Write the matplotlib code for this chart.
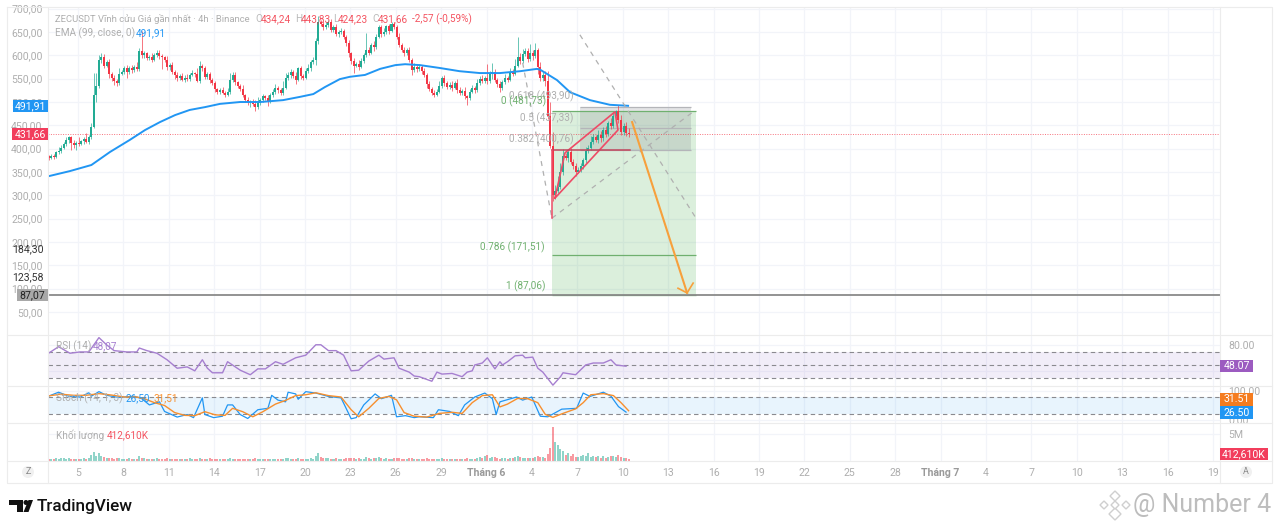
"""ZECUSDT 4h TradingView screenshot: candles, RSI, Stoch and volume panes."""
import numpy as np
import matplotlib
matplotlib.use("Agg")
import matplotlib.pyplot as plt
from matplotlib.patches import Rectangle, Polygon, Circle

plt.rcParams["font.family"] = ["Roboto", "DejaVu Sans"]

W, H = 1280, 529
# -----------------------------------------------------------------------
# Data (x is the candle number, 4h each)
# -----------------------------------------------------------------------
first_open = 384
closes = [
    380, 385, 383, 392, 396, 402, 410, 418, 424, 412,
    408, 413, 410, 416, 420, 415, 425, 447, 516, 535,
    590, 596, 578, 585, 560, 552, 546, 540, 560, 565,
    572, 565, 573, 568, 576, 570, 610, 600, 604, 594,
    596, 590, 600, 606, 598, 596, 590, 574, 580, 565,
    558, 552, 556, 548, 552, 550, 558, 562, 560, 546,
    578, 572, 554, 560, 548, 540, 528, 522, 526, 520,
    516, 522, 548, 558, 542, 535, 528, 515, 505, 498,
    500, 496, 490, 497, 505, 512, 508, 500, 515, 522,
    530, 525, 520, 530, 552, 558, 565, 556, 548, 572,
    555, 552, 566, 572, 585, 590, 630, 672, 668, 660,
    666, 672, 655, 660, 645, 650, 652, 640, 626, 604,
    588, 578, 582, 576, 588, 600, 612, 606, 622, 618,
    640, 660, 645, 650, 662, 652, 668, 660, 640, 622,
    612, 604, 612, 590, 568, 576, 570, 575, 566, 558,
    538, 528, 520, 516, 522, 534, 552, 540, 532, 536,
    530, 540, 526, 520, 524, 512, 508, 522, 530, 526,
    540, 550, 545, 552, 544, 560, 565, 548, 538, 530,
    542, 552, 548, 565, 560, 578, 596, 588, 602, 610,
    592, 606, 598, 612, 575, 552, 558, 545, 470, 405,
    300, 310, 318, 350, 385, 380, 392, 372, 362, 350,
    355, 362, 375, 395, 402, 415, 425, 418, 430, 422,
    440, 432, 455, 448, 470, 480, 462, 435, 448, 434.24,
    431.66,
]
# wick lengths above and below the candle body
wick_up = [
    2, 3, 4, 3, 8, 5, 4, 6, 4, 3,
    6, 4, 12, 3, 4, 14, 5, 8, 46, 28,
    10, 8, 6, 4, 8, 5, 6, 4, 12, 4,
    6, 8, 4, 6, 4, 10, 5, 42, 6, 4,
    4, 8, 4, 6, 5, 4, 3, 8, 4, 6,
    4, 6, 4, 6, 5, 8, 4, 6, 3, 12,
    10, 4, 6, 4, 5, 4, 6, 3, 4, 6,
    4, 8, 14, 6, 6, 4, 4, 8, 3, 6,
    4, 6, 8, 14, 4, 6, 4, 8, 4, 6,
    8, 4, 6, 16, 10, 6, 6, 4, 8, 4,
    6, 4, 6, 10, 4, 6, 8, 12, 4, 6,
    6, 4, 6, 4, 8, 4, 6, 4, 4, 6,
    4, 6, 4, 8, 6, 4, 36, 6, 4, 8,
    6, 4, 6, 8, 4, 6, 3, 4, 6, 8,
    4, 6, 4, 6, 5, 8, 4, 6, 4, 6,
    4, 6, 4, 6, 5, 10, 4, 6, 4, 6,
    8, 4, 10, 6, 4, 8, 4, 6, 6, 4,
    10, 6, 8, 4, 30, 6, 18, 5, 4, 6,
    6, 8, 4, 8, 6, 14, 44, 10, 12, 5,
    6, 18, 6, 14, 4, 10, 6, 8, 22, 30,
    30, 12, 24, 20, 14, 6, 8, 10, 6, 8,
    6, 8, 6, 8, 5, 12, 6, 4, 10, 8,
    6, 8, 4, 10, 8, 2, 14, 10, 6, 10,
    9,
]
wick_dn = [
    4, 3, 5, 3, 4, 5, 3, 4, 6, 14,
    6, 10, 4, 3, 6, 3, 4, 4, 3, 16,
    4, 6, 5, 4, 8, 6, 10, 6, 4, 3,
    5, 14, 4, 6, 3, 4, 4, 6, 5, 4,
    4, 5, 3, 4, 6, 26, 4, 6, 5, 4,
    8, 6, 5, 4, 6, 5, 4, 3, 6, 4,
    6, 5, 4, 5, 8, 4, 6, 4, 5, 3,
    6, 4, 4, 6, 5, 6, 4, 5, 6, 4,
    8, 4, 10, 4, 3, 5, 4, 8, 3, 4,
    4, 6, 4, 4, 3, 4, 6, 4, 10, 4,
    6, 4, 3, 4, 6, 4, 10, 6, 5, 6,
    4, 6, 5, 6, 4, 5, 4, 6, 5, 8,
    6, 16, 4, 8, 3, 4, 3, 6, 4, 8,
    4, 3, 6, 3, 4, 6, 3, 4, 6, 4,
    5, 6, 3, 4, 10, 4, 6, 3, 5, 4,
    8, 5, 6, 5, 4, 3, 3, 6, 5, 4,
    6, 3, 6, 5, 4, 6, 14, 4, 3, 6,
    4, 3, 5, 4, 6, 3, 10, 5, 6, 8,
    4, 3, 6, 4, 5, 3, 4, 6, 5, 3,
    6, 4, 8, 4, 14, 8, 6, 10, 6, 4,
    12, 8, 6, 4, 6, 4, 8, 5, 6, 8,
    3, 6, 5, 6, 4, 4, 5, 3, 6, 8,
    5, 6, 4, 6, 4, 5, 8, 6, 5, 8,
    7.43,
]
volume = [  # millions
    .3, .4, .3, .5, .4, .5, .6, .4, .5, .3,
    .4, .3, .4, .3, .5, .4, .6, 1.2, 1.6, .9,
    1.4, 1.0, .8, .5, .6, .5, .4, .6, .5, .4,
    .4, .3, .5, .4, .3, .4, .9, .6, .5, .4,
    .4, .3, .4, .5, .3, .4, .3, .5, .4, .3,
    .3, .4, .3, .3, .4, .3, .5, .4, .4, .3,
    .5, .4, .3, .4, .5, .4, .3, .4, .3, .3,
    .3, .4, .5, .4, .4, .3, .3, .4, .3, .4,
    .3, .3, .5, .4, .3, .4, .3, .3, .4, .3,
    .4, .3, .3, .4, .6, .5, .4, .3, .4, .6,
    .4, .3, .4, .4, .5, .4, .9, 1.5, .8, .5,
    .6, .5, .4, .4, .5, .3, .4, .4, .5, .6,
    .5, .6, .4, .5, .4, .3, .7, .5, .4, .5,
    .6, .7, .5, .4, .5, .3, .4, .5, .5, .6,
    .4, .3, .4, .5, .6, .4, .3, .3, .4, .4,
    .5, .3, .4, .3, .3, .4, .5, .3, .3, .3,
    .3, .4, .3, .3, .3, .4, .5, .4, .4, .3,
    .6, .7, .5, .9, 1.1, .6, .8, .7, .5, .4,
    .6, .5, .4, .6, .5, .8, 1.0, .7, .6, .6,
    .5, .6, .5, .7, .9, .8, .7, .6, 1.3, 2.4,
    6.3, 3.5, 3.0, 2.2, 1.9, 1.2, 1.4, 1.0, 1.3, .8,
    .7, 1.0, 1.2, .9, 1.4, .8, .9, .7, .9, .6,
    1.0, .6, .8, .9, 1.0, .7, 1.1, .8, .6, .5,
    .41,
]

ema_x = [0, 8.5, 17, 24.4, 32.3, 38.3, 44.2, 50.2, 56, 62, 68, 76, 84, 93,
         99.7, 105, 109.6, 115.5, 119.5, 125.5, 131.5, 137.5, 141.4, 147.3,
         155, 163, 171, 179, 187, 193.7, 195, 201.6, 206.8, 214.7, 222.6, 229.8]
ema_y = [341, 352, 365, 393, 419, 440, 457, 472, 483, 489, 496, 500, 500, 504,
         511, 517, 532, 549, 554, 558, 571, 579, 581, 579,
         573, 566, 562, 562, 566, 571, 569, 547, 521, 504, 494, 491.91]

rsi_x = [0, 4, 8.5, 12.5, 16, 20, 23, 26, 31, 35, 36, 39, 43, 47, 51, 55, 58, 61,
         63, 65, 69, 71, 76, 80, 83, 86, 90, 93, 98, 102, 106, 108, 111, 114, 117,
         120, 123, 127, 131, 133, 137, 139, 143, 145, 147, 152, 154, 156, 160, 164,
         166, 168, 169, 172, 174, 177, 179, 180, 182, 185, 188, 189, 192, 194, 196,
         200, 203, 204, 209, 213, 216, 220, 223, 225, 229]
rsi_y = [68, 78, 68, 70, 70, 92, 81, 72, 70, 70, 76, 72, 68, 58, 45, 47, 41, 58,
         45, 38, 38, 55, 42, 35, 44, 44, 55, 51, 61, 65, 81, 81, 72, 72, 65,
         41, 42, 56, 65, 59, 61, 45, 39, 33, 32, 25, 39, 36, 37, 32,
         39, 41, 50, 53, 61, 44, 55, 50, 55, 64, 65, 61, 62, 45, 39,
         19, 32, 38, 35, 50, 53, 53, 58, 50, 48.07]

k_x = [0, 4, 8, 12.5, 16, 17, 20, 23, 27, 30, 34, 37, 40, 44, 46, 51, 55, 57.5, 61, 62,
       65.5, 69, 71, 73, 76, 79, 83, 87, 88.5, 91, 94, 95, 98, 99, 102, 106, 111, 116,
       120, 122, 125, 129.5, 132, 136, 138, 141.5, 145, 147, 152.6, 154.6, 159, 162.5,
       165, 169, 173, 176, 177.5, 179, 185.6, 188, 191.6, 195, 198, 203.5, 209.4, 212,
       214.7, 220, 223, 226, 229]
k_y = [83, 97, 83, 80, 95, 83, 99, 86, 80, 80, 83, 74, 52, 63, 29, 9, 18, 7, 77, 18,
       7, 12, 52, 52, 18, 4, 35, 40, 86, 69, 63, 97, 91, 72, 99, 94, 82, 77,
       3, 7, 52, 91, 74, 86, 10, 14, 7, 10, 7, 35, 29, 14,
       52, 80, 94, 74, 18, 63, 80, 69, 80, 12, 10, 37, 40, 94,
       82, 97, 83, 46, 26.5]
d_x = [0, 5, 10, 15, 20, 25, 30, 35, 38, 42, 46, 50, 54, 58, 62, 66, 70, 73, 77, 81,
       85, 90, 94, 98, 102, 106, 111, 116, 120, 123, 127, 131, 135, 138, 141, 145,
       150, 155, 160, 164, 168, 172, 176, 179, 182, 186, 190, 194, 197, 200, 204,
       209, 212, 215, 220, 224, 227, 230]
d_y = [84, 90, 86, 86, 92, 87, 80, 80, 74, 60, 50, 25, 15, 14, 28, 17, 15, 40, 28, 10,
       28, 55, 68, 85, 88, 95, 85, 80, 35, 10, 40, 75, 82, 70, 25, 12,
       9, 22, 26, 22, 60, 85, 88, 45, 55, 75, 74, 60, 18, 8, 22,
       38, 60, 88, 92, 85, 60, 31.51]

price_ticks = [700, 650, 600, 550, 500, 450, 400, 350, 300, 250, 200, 150, 100, 50]
time_labels = ["5", "8", "11", "14", "17", "20", "23", "26", "29", "Tháng 6", "4", "7",
               "10", "13", "16", "19", "22", "25", "28", "Tháng 7", "4", "7", "10", "13",
               "16", "19"]
last_price = 431.66
ema_last = 491.91
support = 87.07

# Long position box, fib levels and the hand-drawn pattern
box_x = [199.6, 256.8]
fib_levels = [481.73, 171.51, 87.06]
grey_x = [210.7, 254.8]
grey_levels = [490, 445, 398]
channel_x = [200.8, 204.8, 224.6, 225.8, 200.8]
channel_y = [294, 391, 479, 440, 294]
base_x = [199.6, 230.6]
base_y = [398, 398]
drop_x = [199.6, 199.6]
drop_y = [398, 251]
fan_a = ([199.6, 255.6], [251, 479])
fan_b = ([188, 199.6], [584, 251])
fan_c = ([210.7, 256.4], [644, 254])
arrow_x = [231.4, 253.2]
arrow_y = [457, 91]
head_x = [249.6, 253.2, 255.6]
head_y = [101, 91, 112]

GREEN = "#22ab94"
RED = "#f23645"
GRID = "#f2f4f9"
BORDER = "#ececec"
TEXT = "#aeaeae"
XLIM = (-0.2, 464.5)


def pane(top, bottom):
    """Axes spanning the chart width between two pixel rows."""
    left, right = 48, 1220
    ax = fig.add_axes([left / W, 1 - bottom / H, (right - left) / W, (bottom - top) / H])
    ax.set_xlim(*XLIM)
    for s in ax.spines.values():
        s.set_visible(False)
    ax.set_xticks(time_ticks)
    ax.set_xticklabels([])
    ax.grid(True, color=GRID, lw=0.9)
    ax.set_axisbelow(True)
    ax.tick_params(length=0, labelsize=7.6, labelcolor=TEXT)
    return ax


time_ticks = 11.7 + 18 * np.arange(len(time_labels))
fig = plt.figure(figsize=(W / 100, H / 100), dpi=100, facecolor="white")

# -----------------------------------------------------------------------
# Main price pane
# -----------------------------------------------------------------------
ax = pane(8, 335)
ax.set_ylim(0.8, 701.4)
ax.set_yticks(price_ticks)
ax.set_yticklabels([f"{p},00" for p in price_ticks])
ax.tick_params(axis="y", pad=4)

close = np.array(closes, dtype=float)
open_ = np.r_[first_open, close[:-1]]
x = np.arange(len(close))
up = close >= open_
cols = [GREEN if u else RED for u in up]
high = np.maximum(open_, close) + np.array(wick_up)
low = np.minimum(open_, close) - np.array(wick_dn)

ax.add_patch(Rectangle((box_x[0], fib_levels[2]), box_x[1] - box_x[0], fib_levels[0] - fib_levels[2],
                       fc="#4caf50", alpha=0.2, lw=0, zorder=1))
ax.add_patch(Rectangle((grey_x[0], grey_levels[2]), grey_x[1] - grey_x[0], grey_levels[0] - grey_levels[2],
                       fc="#787b86", alpha=0.2, lw=0, zorder=1.1))
ax.hlines(grey_levels, grey_x[0], grey_x[1], color="#b4b5b9", lw=0.9, zorder=1.2)
ax.hlines(fib_levels, box_x[0], box_x[1], color="#6fb06f", lw=0.9, zorder=1.2)

ax.axhline(support, color="#8a8a8a", lw=1.3, zorder=1.3)
ax.axhline(last_price, color=RED, lw=0.7, ls=(0, (1, 1.5)), alpha=0.7, zorder=1.3)

ax.vlines(x, low, high, colors=cols, lw=0.6, alpha=0.8, zorder=2)
ax.bar(x, np.abs(close - open_), bottom=np.minimum(open_, close), width=0.8, color=cols, lw=0, zorder=2.1)
ax.plot(ema_x, ema_y, color="#2196f3", lw=1.4, zorder=3)

for fx, fy in (fan_a, fan_b, fan_c):
    ax.plot(fx, fy, color="#b0b0b0", lw=0.9, ls=(0, (4, 4)), zorder=3)
ax.plot(channel_x, channel_y, color="#ee4b66", lw=1.2, zorder=3.2)
ax.plot(base_x, base_y, color="#c2455c", lw=1.1, zorder=3.2)
ax.plot(drop_x, drop_y, color="#ee4b66", lw=1.1, zorder=3.2)
ax.plot(arrow_x, arrow_y, color="#f7a03c", lw=1.5, zorder=3.4)
ax.plot(head_x, head_y, color="#f7a03c", lw=1.2, zorder=3.4)

# -----------------------------------------------------------------------
# RSI pane
# -----------------------------------------------------------------------
ax_rsi = pane(335, 386)
ax_rsi.set_ylim(17.7, 96)
ax_rsi.yaxis.tick_right()
ax_rsi.set_yticks([80, 40])
ax_rsi.set_yticklabels(["80.00", ""])
ax_rsi.tick_params(axis="y", pad=6)
ax_rsi.axhspan(30, 70, color="#7e57c2", alpha=0.1, lw=0)
ax_rsi.hlines([70, 50, 30], *XLIM, color="#8a8a8f", lw=0.8, ls=(0, (4, 3)))
ax_rsi.plot(rsi_x, rsi_y, color="#a67fd0", lw=1.0)

# -----------------------------------------------------------------------
# Stochastic pane
# -----------------------------------------------------------------------
ax_st = pane(386, 423)
ax_st.set_ylim(-12, 119)
ax_st.yaxis.tick_right()
ax_st.set_yticks([100, 0])
ax_st.set_yticklabels(["100.00", "0.00"])
ax_st.tick_params(axis="y", pad=6)
ax_st.axhspan(20, 80, color="#2196f3", alpha=0.1, lw=0)
ax_st.hlines([80, 20], *XLIM, color="#8a8a8f", lw=0.8, ls=(0, (4, 3)))
ax_st.plot(k_x, k_y, color="#2196f3", lw=0.9)
ax_st.plot(d_x, d_y, color="#f78f2e", lw=1.0)

# -----------------------------------------------------------------------
# Volume pane (carries the time axis)
# -----------------------------------------------------------------------
ax_vol = pane(423, 461)
ax_vol.set_ylim(0, 7.04)
ax_vol.yaxis.tick_right()
ax_vol.set_yticks([5])
ax_vol.set_yticklabels(["5M"])
ax_vol.tick_params(axis="y", pad=6)
ax_vol.tick_params(axis="x", pad=5)
ax_vol.bar(x, volume, width=0.8, color=cols, alpha=0.5, lw=0)
ax_vol.set_xticklabels(time_labels)
for lab in ax_vol.get_xticklabels():
    if lab.get_text().startswith("Tháng"):
        lab.set_fontweight("bold")
        lab.set_color("#9a9a9a")

# -----------------------------------------------------------------------
# Overlay in pixel coordinates: frame, value tags, legends, branding
# -----------------------------------------------------------------------
ov = fig.add_axes([0, 0, 1, 1], zorder=10)
ov.set_xlim(0, W)
ov.set_ylim(H, 0)
ov.axis("off")
ov.patch.set_alpha(0)

for xs, ys in [([7, 1272, 1272, 7, 7], [7, 7, 483, 483, 7]),
               ([48, 48], [7, 483]), ([1220, 1220], [7, 483]),
               ([7, 1272], [335, 335]), ([7, 1272], [386, 386]),
               ([7, 1272], [423, 423]), ([7, 1272], [461, 461])]:
    ov.plot(xs, ys, color=BORDER, lw=0.8, zorder=1)


def tag(x0, x1, yc, txt, fc, tc="white", h=12):
    ov.add_patch(Rectangle((x0, yc - h / 2), x1 - x0, h, fc=fc, lw=0, zorder=3))
    ov.text((x0 + x1) / 2, yc, txt, color=tc, fontsize=7.6, ha="center", va="center", zorder=4)


tag(13, 48, 106, "491,91", "#2196f3")
tag(12, 48, 134, "431,66", "#f23d5c")
tag(17, 48, 295, "87,07", "#a8a8a8", "#222222")
ov.text(44, 249, "184,30", color="#333333", fontsize=7.6, ha="right", va="center", zorder=4)
ov.text(44, 277, "123,58", color="#333333", fontsize=7.6, ha="right", va="center", zorder=4)
tag(1220, 1253, 366, "48.07", "#9c5bc0")
tag(1220, 1253, 399.5, "31.51", "#f57c1f", h=13)
tag(1220, 1253, 412.5, "26.50", "#2196f3", h=13)
tag(1220, 1268, 454, "412,610K", "#f23d5c")

LEG = 7.2
ov.text(55, 19, "ZECUSDT Vĩnh cửu Giá gần nhất · 4h · Binance", color=TEXT, fontsize=6.8, va="center")
for px, txt, c in [(255, "O", TEXT), (261, "434,24", RED), (295, "H", TEXT), (301, "443,83", RED),
                   (333, "L", TEXT), (338, "424,23", RED), (372, "C", TEXT), (378, "431,66", RED),
                   (412, "-2,57 (-0,59%)", RED)]:
    ov.text(px, 19, txt, color=c, fontsize=LEG, va="center", alpha=0.85)
ov.text(55, 33, "EMA (99, close, 0)", color=TEXT, fontsize=LEG, va="center")
ov.text(136, 33, "491,91", color="#2196f3", fontsize=LEG, va="center")
ov.text(56, 346, "RSI (14)", color=TEXT, fontsize=LEG, va="center")
ov.text(93, 346, "48,07", color="#a67fd0", fontsize=LEG, va="center")
ov.text(56, 398, "Stoch (14, 1, 3)", color=TEXT, fontsize=LEG, va="center")
ov.text(126, 398, "26,50", color="#2196f3", fontsize=LEG, va="center")
ov.text(154, 398, "31,51", color="#f78f2e", fontsize=LEG, va="center")
ov.text(56, 435, "Khối lượng", color=TEXT, fontsize=LEG, va="center")
ov.text(107, 435, "412,610K", color=RED, fontsize=LEG, va="center", alpha=0.85)

for px, py, txt, c in [(574, 96, "0.618 (493,90)", TEXT), (546, 101, "0 (481,73)", "#6fb06f"),
                       (573, 118, "0.5 (437,33)", TEXT), (574, 139, "0.382 (400,76)", TEXT),
                       (545, 247, "0.786 (171,51)", "#6fb06f"), (545, 286, "1 (87,06)", "#6fb06f")]:
    ov.text(px, py, txt, color=c, fontsize=LEG, ha="right", va="center", zorder=4)

for cx, lab in [(28, "Z"), (1246, "A")]:
    ov.add_patch(Circle((cx, 472), 6, fc="#f0f0f0", lw=0, zorder=3))
    ov.text(cx, 472, lab, color="#8a8a8a", fontsize=6.5, ha="center", va="center", zorder=4)

# TradingView logo
ov.add_patch(Polygon([(9, 500), (23, 500), (23, 512), (17, 512), (17, 505), (9, 505)], fc="#111111", lw=0))
ov.add_patch(Circle((26, 502.5), 2.5, fc="#111111", lw=0))
ov.add_patch(Polygon([(23.5, 512), (28.5, 500), (33, 500), (28.5, 512)], fc="#111111", lw=0))
ov.text(37, 506, "TradingView", color="#111111", fontsize=12.3, fontweight="medium", va="center")

# Watermark
for cx, cy, s in [(1115, 496, 5), (1104, 505, 4), (1126, 505, 4), (1115, 514, 6), (1115, 505, 4)]:
    ov.add_patch(Polygon([(cx, cy - s), (cx + s, cy), (cx, cy + s), (cx - s, cy)],
                         fc="white", ec="#cfcfcf", lw=1.0))
ov.text(1133, 505, "@ Number 4", color="#bdbdbd", fontsize=18, va="center")

fig.savefig("out.png", dpi=100)
